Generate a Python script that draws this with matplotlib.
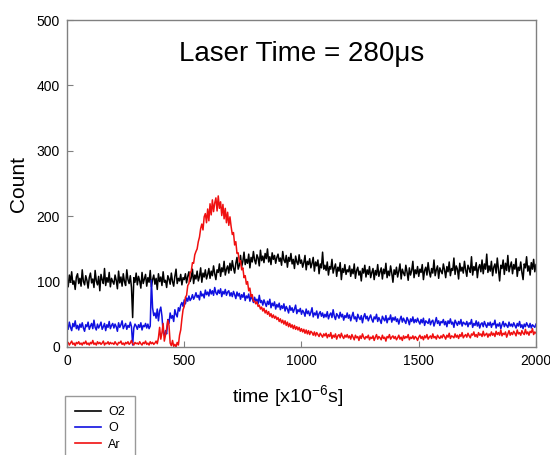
import numpy as np
import matplotlib
matplotlib.use("Agg")
import matplotlib.pyplot as plt

plt.rcParams['font.family'] = ['Liberation Sans', 'DejaVu Sans']

# 计数数据，0-2000 us，每 5 us 一个点 (每行 100 us)
o2_count = [
    104, 92, 110, 99, 115, 96, 101, 88, 107, 112, 97, 105, 93, 118, 100, 95, 109, 102, 90, 106,
    113, 98, 104, 91, 117, 101, 95, 108, 86, 111, 103, 97, 120, 94, 106, 99, 114, 92, 105, 100,
    96, 110, 102, 89, 116, 98, 107, 93, 112, 100, 94, 118, 103, 97, 109, 91, 45, 106, 99, 113,
    95, 108, 101, 90, 114, 97, 104, 111, 93, 106, 99, 117, 92, 103, 110, 96, 105, 88, 112, 100,
    107, 94, 115, 99, 102, 91, 109, 104, 96, 113, 100, 93, 108, 119, 97, 105, 101, 111, 95, 106,
    103, 112, 98, 108, 115, 100, 106, 119, 97, 110, 104, 116, 101, 108, 121, 99, 113, 107, 118, 104,
    111, 120, 105, 116, 109, 124, 112, 103, 118, 114, 127, 108, 121, 115, 131, 110, 119, 124, 113, 128,
    117, 132, 121, 113, 128, 137, 119, 125, 140, 123, 131, 145, 126, 134, 128, 142, 121, 137, 130, 146,
    133, 127, 141, 136, 124, 148, 132, 139, 129, 143, 135, 150, 130, 138, 126, 144, 134, 140, 128, 137,
    142, 131, 136, 125, 146, 133, 129, 140, 122, 137, 131, 143, 127, 134, 120, 139, 130, 126, 141, 128,
    133, 122, 129, 140, 118, 131, 126, 135, 121, 128, 137, 116, 130, 124, 133, 112, 127, 121, 145, 119,
    125, 117, 130, 110, 123, 119, 134, 113, 121, 127, 108, 122, 116, 129, 103, 120, 114, 126, 111, 118,
    115, 124, 108, 119, 112, 127, 105, 117, 122, 110, 116, 101, 120, 113, 125, 107, 118, 111, 123, 106,
    114, 120, 103, 117, 110, 126, 108, 115, 121, 104, 119, 112, 128, 106, 116, 109, 124, 113, 99, 118,
    111, 122, 107, 116, 127, 104, 119, 113, 109, 125, 115, 102, 121, 110, 117, 131, 106, 118, 112, 123,
    108, 119, 114, 126, 103, 117, 122, 110, 129, 115, 107, 120, 113, 133, 109, 118, 124, 105, 121, 116,
    112, 127, 118, 106, 123, 115, 130, 109, 120, 117, 136, 111, 124, 119, 104, 128, 116, 122, 113, 131,
    118, 108, 125, 120, 114, 138, 110, 123, 117, 129, 106, 121, 126, 115, 133, 112, 127, 119, 142, 114,
    124, 116, 131, 109, 122, 127, 113, 136, 118, 101, 125, 120, 133, 111, 128, 117, 140, 115, 123, 130,
    112, 126, 119, 135, 108, 122, 117, 130, 114, 103, 127, 121, 138, 116, 124, 110, 129, 119, 134, 115,
    126,
]

o_count = [
    34, 27, 38, 30, 25, 36, 31, 40, 28, 33, 26, 35, 30, 37, 29, 24, 34, 31, 38, 27,
    32, 36, 28, 41, 30, 26, 35, 29, 33, 38, 27, 31, 36, 25, 34, 30, 39, 28, 33, 36,
    29, 35, 31, 24, 37, 30, 34, 40, 28, 32, 36, 27, 33, 30, 38, 31, 3, 29, 35, 32,
    27, 34, 30, 37, 26, 33, 31, 36, 29, 35, 28, 32, 102, 60, 48, 52, 44, 58, 40, 55,
    61, 47, 22, 18, 25, 20, 42, 36, 52, 44, 48, 39, 57, 50, 46, 60, 55, 64, 68, 62,
    72, 66, 75, 70, 78, 71, 74, 80, 73, 77, 83, 76, 79, 72, 85, 78, 81, 75, 87, 80,
    84, 78, 88, 81, 86, 79, 91, 83, 80, 87, 82, 89, 77, 85, 81, 88, 79, 84, 86, 78,
    83, 77, 85, 80, 74, 84, 78, 82, 73, 80, 76, 83, 71, 78, 75, 81, 70, 77, 74, 68,
    76, 70, 73, 66, 79, 68, 71, 64, 72, 67, 62, 70, 65, 73, 60, 67, 63, 69, 58, 65,
    61, 67, 57, 63, 59, 66, 55, 62, 58, 52, 63, 56, 60, 53, 58, 64, 51, 57, 54, 59,
    50, 56, 53, 47, 58, 51, 55, 48, 53, 60, 46, 52, 49, 55, 44, 51, 54, 47, 52, 45,
    50, 46, 54, 43, 49, 52, 45, 57, 47, 42, 51, 48, 44, 53, 46, 50, 41, 48, 45, 52,
    44, 49, 40, 47, 53, 43, 46, 39, 50, 45, 42, 48, 37, 46, 51, 43, 47, 40, 45, 49,
    42, 38, 46, 43, 50, 39, 45, 41, 36, 47, 43, 40, 48, 37, 44, 42, 49, 38, 45, 41,
    46, 39, 43, 35, 42, 47, 38, 44, 40, 36, 45, 41, 34, 43, 39, 46, 37, 42, 38, 44,
    39, 35, 42, 37, 44, 33, 40, 38, 36, 43, 34, 39, 41, 32, 38, 45, 36, 40, 33, 39,
    37, 42, 34, 39, 31, 40, 36, 43, 35, 38, 30, 41, 37, 33, 39, 35, 42, 32, 38, 36,
    34, 39, 31, 37, 35, 42, 30, 36, 33, 40, 32, 38, 29, 35, 37, 31, 39, 34, 30, 37,
    33, 38, 30, 36, 34, 41, 29, 35, 32, 37, 28, 34, 39, 31, 36, 33, 30, 38, 32, 35,
    31, 37, 33, 29, 36, 32, 39, 30, 34, 28, 35, 31, 37, 33, 30, 36, 29, 34, 32, 30,
    35,
]

ar_count = [
    5, 7, 3, 6, 9, 4, 6, 2, 7, 5, 8, 4, 6, 3, 7, 5, 9, 4, 6, 3,
    7, 5, 10, 4, 6, 3, 8, 5, 7, 4, 6, 9, 3, 6, 5, 8, 4, 7, 5, 6,
    4, 8, 5, 3, 7, 6, 9, 4, 6, 3, 7, 5, 8, 4, 6, 10, 5, 3, 7, 5,
    6, 4, 8, 5, 3, 7, 5, 9, 4, 6, 3, 8, 5, 7, 4, 6, 9, 5, 14, 30,
    12, 22, 36, 9, 18, 28, 41, 33, 6, 2, 10, 1, 4, 0, 7, 3, 18, 26, 43, 57,
    62, 76, 79, 94, 97, 113, 116, 129, 128, 141, 146, 150, 161, 168, 181, 188, 179, 199, 204, 190,
    211, 193, 219, 202, 225, 207, 220, 228, 208, 231, 212, 222, 201, 218, 196, 212, 190, 206, 186, 199,
    184, 172, 175, 156, 161, 143, 144, 130, 132, 118, 121, 106, 109, 96, 100, 86, 90, 77, 80, 70,
    70, 66, 69, 62, 64, 58, 61, 55, 59, 52, 56, 50, 54, 47, 51, 45, 49, 44, 47, 42,
    45, 39, 43, 37, 41, 35, 40, 33, 38, 31, 36, 30, 34, 28, 33, 27, 31, 26, 30, 24,
    28, 23, 27, 21, 26, 20, 25, 19, 24, 22, 18, 23, 17, 22, 19, 16, 21, 18, 15, 20,
    17, 21, 14, 19, 16, 22, 13, 18, 15, 20, 12, 17, 19, 14, 21, 16, 13, 18, 15, 19,
    14, 17, 12, 19, 15, 11, 18, 14, 16, 10, 17, 13, 20, 15, 12, 16, 14, 18, 11, 15,
    13, 17, 10, 15, 19, 12, 16, 14, 11, 18, 13, 15, 9, 16, 14, 19, 12, 15, 17, 13,
    16, 11, 14, 18, 12, 15, 10, 17, 13, 16, 14, 19, 11, 15, 13, 17, 12, 16, 14, 10,
    15, 18, 13, 16, 11, 17, 14, 19, 12, 15, 17, 13, 20, 14, 16, 12, 18, 15, 13, 17,
    14, 19, 16, 12, 18, 15, 21, 13, 17, 16, 14, 20, 15, 18, 13, 19, 16, 22, 14, 17,
    19, 15, 21, 17, 14, 20, 18, 23, 16, 19, 15, 22, 18, 20, 16, 24, 17, 19, 21, 15,
    20, 17, 23, 18, 21, 16, 24, 19, 22, 18, 26, 17, 21, 19, 23, 15, 20, 25, 18, 22,
    19, 24, 21, 17, 26, 20, 22, 18, 25, 21, 19, 27, 20, 23, 18, 24, 22, 28, 19, 23,
    21,
]

series = [
    ('O2', o2_count, 'black'),
    ('O', o_count, '#1010e0'),
    ('Ar', ar_count, '#f01010'),
]

x_ticks = [0, 500, 1000, 1500, 2000]
y_ticks = [0, 100, 200, 300, 400, 500]

fig = plt.figure(figsize=(5.5, 4.55), dpi=100)
ax = fig.add_axes([0.1218, 0.2374, 0.8527, 0.7186])

for name, counts, color in series:
    t = np.linspace(0, 2000, len(counts))
    ax.plot(t, counts, color=color, lw=1.1, label=name)

ax.set_xlim(0, 2000)
ax.set_ylim(0, 500)
ax.set_xticks(x_ticks)
ax.set_yticks(y_ticks)
ax.tick_params(direction='in', length=4, width=0.8, color='#808080',
               labelsize=10, pad=5, top=False, right=False)
for sp in ax.spines.values():
    sp.set_color('#808080')
    sp.set_linewidth(1.0)

ax.set_ylabel('Count', fontsize=15, labelpad=6)
ax.set_xlabel(r'time [x10$^{\mathregular{-6}}$s]', fontsize=14)
ax.xaxis.set_label_coords(0.47, -0.112)

ax.text(0.5, 0.895, 'Laser Time = 280\u03bcs', transform=ax.transAxes,
        ha='center', va='center', fontsize=20)

leg = fig.legend(loc='upper left', bbox_to_anchor=(65 / 550, 1 - 396 / 455),
                 fontsize=9, frameon=True, fancybox=False, handlelength=2.1,
                 labelspacing=0.35, borderpad=0.8, handletextpad=0.55,
                 borderaxespad=0)
leg.get_frame().set_edgecolor('#808080')
leg.get_frame().set_linewidth(1.0)
for line in leg.get_lines():
    line.set_linewidth(1.2)

fig.savefig('out.png', dpi=100)
